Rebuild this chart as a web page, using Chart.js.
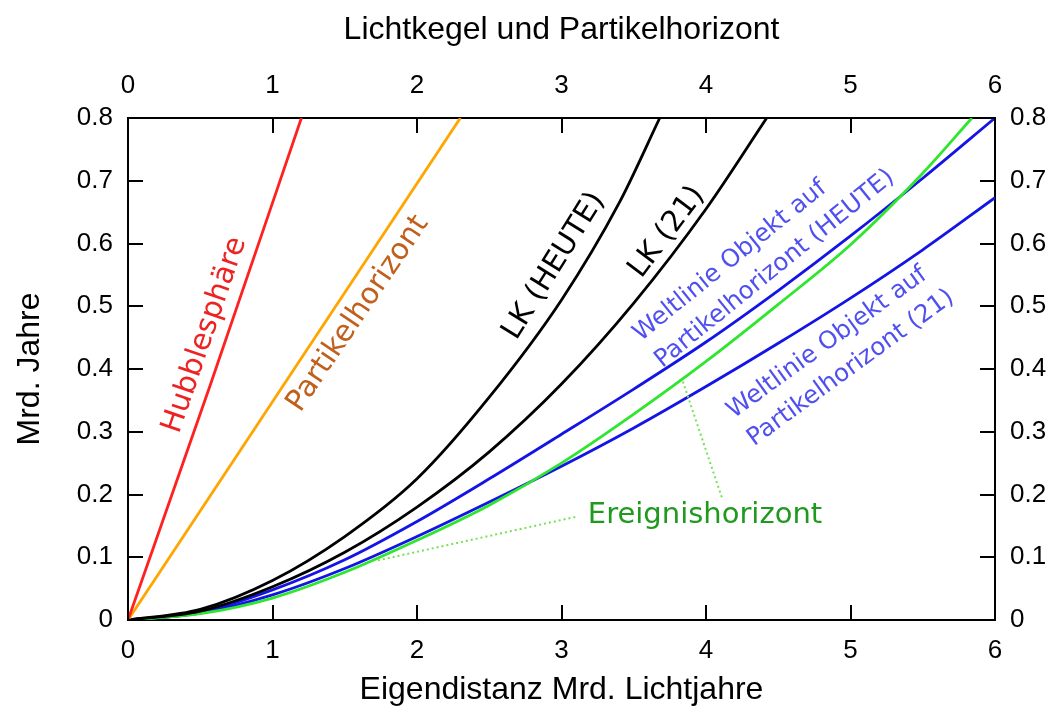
<!DOCTYPE html>
<html lang="de">
<head>
<meta charset="utf-8">
<title>Lichtkegel und Partikelhorizont</title>
<script src="https://cdn.jsdelivr.net/npm/chart.js@4.4.1/dist/chart.umd.min.js"></script>
<style>
  html, body { margin: 0; padding: 0; background: #fff; }
  #wrap { width: 1054px; height: 713px; }
</style>
</head>
<body>
<div id="wrap"><canvas id="lightCone" width="1054" height="713"></canvas></div>
<script>
// Werte (x: Eigendistanz in Mrd. Lj, y: Mrd. Jahre)
const xTicks = [0, 1, 2, 3, 4, 5, 6];
const yTicks = [0, 0.1, 0.2, 0.3, 0.4, 0.5, 0.6, 0.7, 0.8];

const hubbleX = [0, 0.57, 1.2];
const hubbleY = [0, 0.375, 0.8];

const partikelX = [0, 2.3];
const partikelY = [0, 0.8];

const lkHeuteX = [0, 0.5, 1, 1.5, 2, 2.5, 3, 3.4, 3.68];
const lkHeuteY = [0, 0.017, 0.063, 0.133, 0.225, 0.355, 0.51, 0.665, 0.8];

const lk21X = [0, 0.5, 1, 1.5, 2, 2.5, 3, 3.5, 4, 4.42];
const lk21Y = [0, 0.014, 0.053, 0.108, 0.18, 0.268, 0.376, 0.505, 0.655, 0.8];

const weltHeuteX = [0, 0.5, 1, 1.5, 2, 2.5, 3, 3.5, 4, 4.5, 5, 5.5, 6];
const weltHeuteY = [0, 0.012, 0.048, 0.096, 0.157, 0.225, 0.296, 0.368, 0.443, 0.525, 0.612, 0.704, 0.8];

const welt21X = [0, 0.5, 1, 1.5, 2, 2.5, 3, 3.5, 4, 4.5, 5, 5.5, 6];
const welt21Y = [0, 0.011, 0.040, 0.082, 0.133, 0.188, 0.245, 0.306, 0.372, 0.441, 0.513, 0.59, 0.673];

const ereignisX = [0, 0.5, 1, 1.5, 2, 2.5, 3, 3.5, 4, 4.5, 5, 5.5, 5.84];
const ereignisY = [0, 0.010, 0.035, 0.076, 0.127, 0.183, 0.25, 0.328, 0.412, 0.503, 0.598, 0.712, 0.8];

// gepunktete Hinweislinien zum Label "Ereignishorizont"
const hint1X = [1.73, 3.11];
const hint1Y = [0.095, 0.165];
const hint2X = [3.84, 4.11];
const hint2Y = [0.38, 0.195];

const toPoints = (xs, ys) => xs.map((x, i) => ({ x: x, y: ys[i] }));

function curve(xs, ys, color) {
    return {
        data: toPoints(xs, ys),
        borderColor: color,
        borderWidth: 2.8,
        pointRadius: 0,
        showLine: true,
        cubicInterpolationMode: 'monotone',
        fill: false
    };
}

function hint(xs, ys) {
    return {
        data: toPoints(xs, ys),
        borderColor: '#77e055',
        borderWidth: 2,
        borderDash: [2, 3],
        pointRadius: 0,
        showLine: true,
        fill: false
    };
}

// Beschriftungen im Diagramm (Lage in Datenkoordinaten)
const notes = [
    { text: ['Hubblesphäre'], x: 0.533, y: 0.454, angle: -71, color: '#ee2222', size: 29.5, align: 'center' },
    { text: ['Partikelhorizont'], x: 1.592, y: 0.488, angle: -56, color: '#c0601c', size: 29.5, align: 'center' },
    { text: ['LK (HEUTE)'], x: 2.948, y: 0.564, angle: -58, color: '#000000', size: 29.5, align: 'center' },
    { text: ['LK (21)'], x: 3.73, y: 0.618, angle: -53, color: '#000000', size: 29.5, align: 'center' },
    { text: ['Weltlinie Objekt auf', 'Partikelhorizont (HEUTE)'], x: 3.52, y: 0.4515, angle: -39, color: '#5050f0', size: 24.5, align: 'left' },
    { text: ['Weltlinie Objekt auf', 'Partikelhorizont (21)'], x: 4.166, y: 0.329, angle: -36, color: '#5050f0', size: 24.5, align: 'left' },
    { text: ['Ereignishorizont'], x: 3.993, y: 0.167, angle: 0, color: '#1f9a1f', size: 29, align: 'center' }
];

const notesPlugin = {
    id: 'notes',
    afterDatasetsDraw(chart) {
        const { ctx, scales } = chart;
        notes.forEach(n => {
            const px = scales.x.getPixelForValue(n.x);
            const py = scales.y.getPixelForValue(n.y);
            ctx.save();
            ctx.translate(px, py);
            ctx.rotate(n.angle * Math.PI / 180);
            ctx.font = n.size + 'px "DejaVu Sans"';
            ctx.fillStyle = n.color;
            ctx.textAlign = n.align;
            ctx.textBaseline = 'middle';
            n.text.forEach((line, i) => ctx.fillText(line, 0, i * n.size * 1.4));
            ctx.restore();
        });
    }
};

// Teilstriche zeigen nach innen
const innerTicks = {
    id: 'innerTicks',
    afterDraw(chart) {
        const { ctx, chartArea: a, scales } = chart;
        const len = 15;
        ctx.save();
        ctx.strokeStyle = '#000';
        ctx.lineWidth = 2;
        ctx.beginPath();
        xTicks.forEach(v => {
            const px = Math.round(scales.x.getPixelForValue(v));
            ctx.moveTo(px, a.bottom); ctx.lineTo(px, a.bottom - len);
            ctx.moveTo(px, a.top); ctx.lineTo(px, a.top + len);
        });
        yTicks.forEach(v => {
            const py = Math.round(scales.y.getPixelForValue(v));
            ctx.moveTo(a.left, py); ctx.lineTo(a.left + len, py);
            ctx.moveTo(a.right, py); ctx.lineTo(a.right - len, py);
        });
        ctx.stroke();
        ctx.restore();
    }
};

const tickFont = { family: '"Liberation Sans", Arial, sans-serif', size: 26 };
const titleFont = { family: '"Liberation Sans", Arial, sans-serif', size: 32 };
const edge = { display: true, color: '#000', width: 2 };
const noGrid = { display: false, drawTicks: false };
const fmtY = v => String(+v.toFixed(1));

new Chart(document.getElementById('lightCone'), {
    type: 'scatter',
    data: {
        datasets: [
            curve(hubbleX, hubbleY, '#ff2020'),
            curve(partikelX, partikelY, '#ffa500'),
            curve(lkHeuteX, lkHeuteY, '#000000'),
            curve(lk21X, lk21Y, '#000000'),
            hint(hint1X, hint1Y),
            hint(hint2X, hint2Y),
            curve(ereignisX, ereignisY, '#2ee62e'),
            curve(weltHeuteX, weltHeuteY, '#1414e6'),
            curve(welt21X, welt21Y, '#1414e6')
        ]
    },
    options: {
        responsive: false,
        animation: false,
        layout: { padding: 0 },
        plugins: {
            legend: { display: false },
            tooltip: { enabled: false }
        },
        scales: {
            x: {
                type: 'linear', position: 'bottom', min: 0, max: 6,
                grid: noGrid, border: edge,
                ticks: { stepSize: 1, padding: 15, color: '#000', font: tickFont },
                title: { display: true, text: 'Eigendistanz Mrd. Lichtjahre', color: '#000', font: titleFont, padding: { top: 0, bottom: 4 } },
                afterFit: s => { s.height = 93; }
            },
            x2: {
                type: 'linear', position: 'top', min: 0, max: 6,
                grid: noGrid, border: edge,
                ticks: { stepSize: 1, padding: 17, color: '#000', font: tickFont },
                title: { display: true, text: 'Lichtkegel und Partikelhorizont', color: '#000', font: titleFont, padding: { top: 11, bottom: 0 } },
                afterFit: s => { s.height = 118; }
            },
            y: {
                type: 'linear', position: 'left', min: 0, max: 0.8,
                grid: noGrid, border: edge,
                ticks: { stepSize: 0.1, padding: 15, color: '#000', font: tickFont, callback: fmtY },
                title: { display: true, text: 'Mrd. Jahre', color: '#000', font: titleFont, padding: { top: 11, bottom: 0 } },
                afterFit: s => { s.width = 128; }
            },
            y2: {
                type: 'linear', position: 'right', min: 0, max: 0.8,
                grid: noGrid, border: edge,
                ticks: { stepSize: 0.1, padding: 15, color: '#000', font: tickFont, callback: fmtY },
                afterFit: s => { s.width = 59; }
            }
        }
    },
    plugins: [notesPlugin, innerTicks]
});
</script>
</body>
</html>
